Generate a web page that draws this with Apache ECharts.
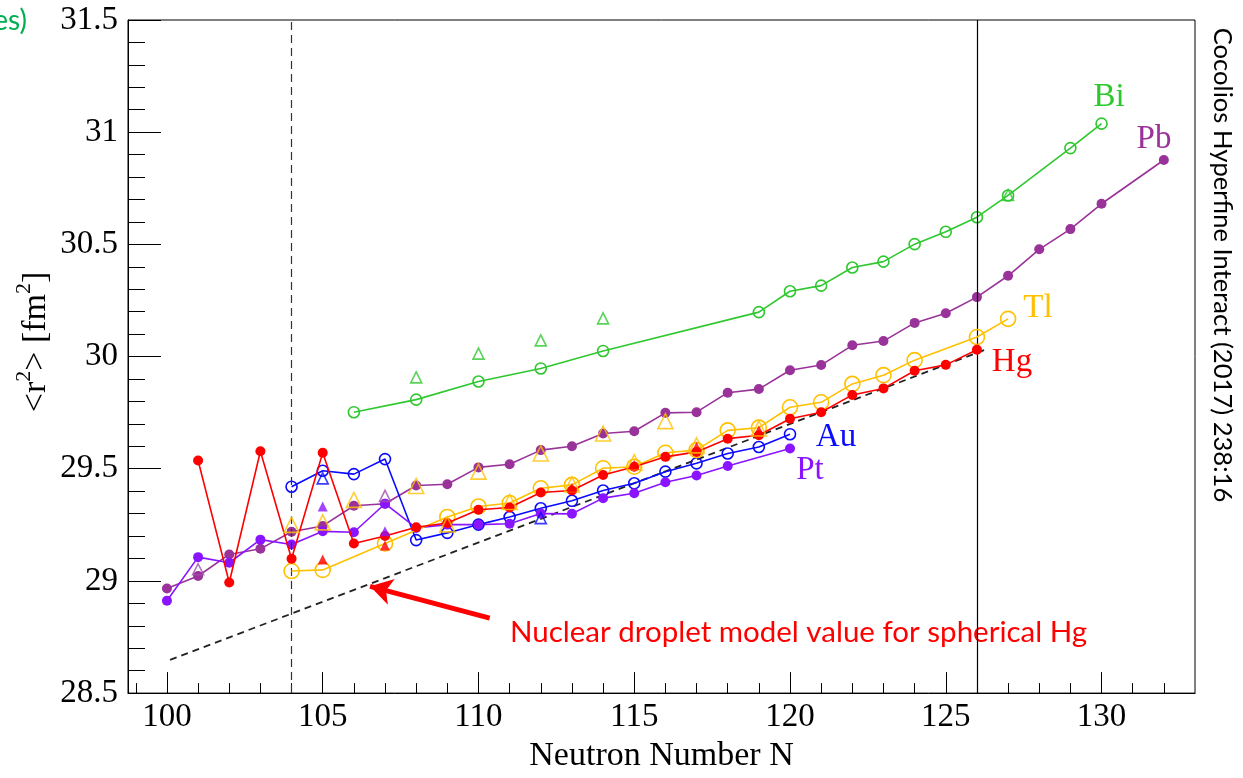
<!DOCTYPE html>
<html>
<head>
<meta charset="utf-8">
<script src="https://cdn.jsdelivr.net/npm/echarts@6/dist/echarts.min.js"></script>
<style>
html,body{margin:0;padding:0;background:#fff;}
#chart{width:1243px;height:778px;}
</style>
</head>
<body>
<div id="chart"></div>
<script>
// ---- data (neutron number N, <r^2> in fm^2) ----
const hgN = [101,102,103,104,105,106,107,108,109,110,111,112,113,114,115,116,117,118,119,120,121,122,123,124,125,126];
const hgR = [29.537,28.993,29.578,29.099,29.571,29.167,29.20,29.239,29.258,29.317,29.327,29.394,29.403,29.472,29.509,29.553,29.575,29.634,29.649,29.723,29.752,29.829,29.858,29.937,29.963,30.03];

const ptN = [100,101,102,103,104,105,106,107,108,109,110,111,112,113,114,115,116,117,118,120];
const ptR = [28.912,29.106,29.081,29.184,29.162,29.221,29.217,29.344,29.236,29.251,29.251,29.255,29.30,29.299,29.369,29.391,29.44,29.47,29.512,29.59];

const pbN = [100,101,102,103,104,105,106,107,108,109,110,111,112,113,114,115,116,117,118,119,120,121,122,123,124,125,126,127,128,129,130,132];
const pbR = [28.966,29.022,29.118,29.143,29.219,29.245,29.335,29.344,29.425,29.431,29.506,29.52,29.583,29.60,29.657,29.667,29.749,29.752,29.839,29.855,29.939,29.962,30.05,30.069,30.15,30.193,30.265,30.36,30.478,30.568,30.681,30.876];

const tlN = [104,105,107,109,110,111,112,113,114,115,116,117,118,119,120,121,122,123,124,126,127];
const tlR = [29.044,29.049,29.167,29.285,29.332,29.347,29.413,29.428,29.502,29.509,29.571,29.583,29.671,29.683,29.774,29.796,29.878,29.917,29.984,30.087,30.168];

const auN = [104,105,106,107,108,109,110,111,112,113,114,115,116,117,118,119,120];
const auR = [29.42,29.491,29.476,29.543,29.182,29.214,29.251,29.285,29.324,29.357,29.403,29.435,29.487,29.524,29.568,29.597,29.654];

const biN = [106,108,110,112,114,119,120,121,122,123,124,125,126,127,129,130];
const biR = [29.752,29.808,29.889,29.947,30.025,30.198,30.291,30.316,30.397,30.423,30.501,30.556,30.621,30.718,30.929,31.038];

// isomer (triangle) points
const tlIsoN = [104,105,106,108,109,110,111,112,113,114,115,116,117,119];
const tlIsoR = [29.25,29.261,29.361,29.423,29.252,29.487,29.352,29.568,29.43,29.657,29.529,29.712,29.604,29.68];
const hgIsoN = [105,107,113,115,117,119];
const hgIsoR = [29.096,29.158,29.415,29.518,29.598,29.672];
const ptIsoN = [105,107];
const ptIsoR = [29.332,29.221];
const pbIsoN = [101,107];
const pbIsoR = [29.052,29.379];
const auIsoN = [105,112];
const auIsoR = [29.457,29.28];
const biIsoN = [108,110,112,114,127];
const biIsoR = [29.907,30.013,30.072,30.17,30.72];

// droplet model line (Hg, spherical)
const modelN = [100.1,126.35];
const modelR = [28.648,30.035];

// arrow annotation (tail -> tip)
const arrowN = [110.36,106.52];
const arrowR = [28.834,28.976];

// axis ticks
const xMajor = [100,105,110,115,120,125,130];
const xMinor = [99,101,102,103,104,106,107,108,109,111,112,113,114,116,117,118,119,121,122,123,124,126,127,128,129,131,132];

// vertical reference lines
const shellClosureN = 126;
const midShellN = 104;

// ---- colours ----
const C = {Hg:'#ff0000', Pt:'#8a14ff', Pb:'#993399', Tl:'#ffc000', Au:'#0a0aff', Bi:'#2ec82e'};

function zip(a,b){return a.map((v,i)=>[v,b[i]]);}

const serif = 'Liberation Serif';
const chart = echarts.init(document.getElementById('chart'));

function lineSeries(name, n, r, color, filled, size, z){
  return {
    name, type:'line', data: zip(n,r), z,
    symbol:'circle', symbolSize:size,
    itemStyle: filled ? {color:color} : {color:'rgba(0,0,0,0)', borderColor:color, borderWidth:1.6},
    lineStyle:{color:color, width:1.6},
    emphasis:{disabled:true}, animation:false
  };
}
function triSeries(name, n, r, color, filled, size, z){
  return {
    name, type:'scatter', data: zip(n,r), z,
    symbol:'triangle', symbolSize:size,
    itemStyle: filled ? {color:color} : {color:'rgba(0,0,0,0)', borderColor:color, borderWidth:1.6},
    emphasis:{disabled:true}, animation:false
  };
}

const option = {
  animation:false,
  backgroundColor:'#fff',
  grid:{left:128, right:48, top:20, bottom:81, show:true, borderColor:'#000', borderWidth:1, backgroundColor:'transparent'},
  xAxis:[{
    type:'value', min:98.75, max:133,
    name:'Neutron Number N', nameLocation:'middle', nameGap:42,
    nameTextStyle:{fontFamily:serif, fontSize:34, color:'#000'},
    axisLine:{show:true, onZero:false, lineStyle:{color:'#000', width:1}},
    axisTick:{show:true, inside:true, length:21, customValues:xMajor, lineStyle:{color:'#000', width:1}},
    axisLabel:{show:true, customValues:xMajor, fontFamily:serif, fontSize:33, color:'#000', margin:8},
    splitLine:{show:false}
  },{
    type:'value', min:98.75, max:133, position:'bottom',
    axisLine:{show:false},
    axisTick:{show:true, inside:true, length:10, customValues:xMinor, lineStyle:{color:'#000', width:1}},
    axisLabel:{show:false},
    splitLine:{show:false}
  }],
  yAxis:{
    type:'value', min:28.5, max:31.5, interval:0.5,
    axisLine:{show:true, onZero:false, lineStyle:{color:'#000', width:1}},
    axisTick:{show:true, inside:true, length:33, lineStyle:{color:'#000', width:1}},
    minorTick:{show:true, splitNumber:5, length:17, lineStyle:{color:'#000', width:1}},
    axisLabel:{fontFamily:serif, fontSize:33, color:'#000', margin:10},
    splitLine:{show:false}
  },
  series:[
    {
      name:'model', type:'line', data: zip(modelN, modelR), z:2,
      symbol:'none', lineStyle:{color:'#222', width:1.8, type:[7,5]},
      emphasis:{disabled:true},
      markLine:{
        silent:true, animation:false,
        label:{show:false},
        symbol:['none','none'],
        data:[
          [{xAxis:midShellN, yAxis:28.5, lineStyle:{color:'#333', width:1.2, type:[8,5]}},{xAxis:midShellN, yAxis:31.5}],
          [{xAxis:shellClosureN, yAxis:28.5, lineStyle:{color:'#000', width:1.2, type:'solid'}},{xAxis:shellClosureN, yAxis:31.5}],
          [{coord:[arrowN[0],arrowR[0]], symbol:'none', lineStyle:{color:'#ff0000', width:5, type:'solid'}},
           {coord:[arrowN[1],arrowR[1]], symbol:'arrow', symbolSize:[20,22]}]
        ]
      }
    },
    lineSeries('Bi', biN, biR, C.Bi, false, 11, 3),
    lineSeries('Pb', pbN, pbR, C.Pb, true, 10, 3),
    lineSeries('Au', auN, auR, C.Au, false, 11, 4),
    lineSeries('Pt', ptN, ptR, C.Pt, true, 10, 4),
    lineSeries('Tl', tlN, tlR, C.Tl, false, 15, 5),
    lineSeries('Hg', hgN, hgR, C.Hg, true, 10, 6),
    triSeries('Tl*', tlIsoN, tlIsoR, C.Tl, false, 15, 7),
    triSeries('Hg*', hgIsoN, hgIsoR, C.Hg, true, 10, 8),
    triSeries('Pt*', ptIsoN, ptIsoR, C.Pt, true, 10, 8),
    triSeries('Pb*', pbIsoN, pbIsoR, '#a050a8', false, 11, 8),
    triSeries('Au*', auIsoN, auIsoR, C.Au, false, 11, 8),
    triSeries('Bi*', biIsoN, biIsoR, C.Bi, false, 11, 8)
  ],
  graphic:[
    {type:'text', x:33, y:342, rotation:Math.PI/2, silent:true,
     style:{text:'{m|<r}{s|2}{m|> [fm}{s|2}{m|]}', x:0, y:0, textAlign:'center', textVerticalAlign:'middle', fontFamily:serif, fontSize:34, fill:'#000',
       rich:{m:{fontFamily:serif, fontSize:34, lineHeight:40, verticalAlign:'bottom', fill:'#000'}, s:{fontFamily:serif, fontSize:22, lineHeight:40, verticalAlign:'top', fill:'#000'}}}},
    {type:'text', x:1222, y:265, rotation:-Math.PI/2, silent:true,
     style:{text:'Cocolios Hyperfine Interact (2017) 238:16', x:0, y:0, textAlign:'center', textVerticalAlign:'middle', fontFamily:'Lato', fontSize:25.6, fill:'#000'}},
    {type:'text', x:27, y:21, silent:true,
     style:{text:'es)', textAlign:'right', textVerticalAlign:'middle', fontFamily:'Lato', fontSize:28, fill:'#00b050'}},
    {type:'text', x:510, y:632, silent:true,
     style:{text:'Nuclear droplet model value for spherical Hg', textAlign:'left', textVerticalAlign:'middle', fontFamily:'Lato', fontSize:29.5, fill:'#ff0000'}},
    {type:'text', x:1109, y:97, silent:true, style:{text:'Bi', textAlign:'center', textVerticalAlign:'middle', fontFamily:serif, fontSize:33, fill:C.Bi}},
    {type:'text', x:1154, y:139, silent:true, style:{text:'Pb', textAlign:'center', textVerticalAlign:'middle', fontFamily:serif, fontSize:33, fill:C.Pb}},
    {type:'text', x:1038, y:308, silent:true, style:{text:'Tl', textAlign:'center', textVerticalAlign:'middle', fontFamily:serif, fontSize:33, fill:C.Tl}},
    {type:'text', x:1012, y:362, silent:true, style:{text:'Hg', textAlign:'center', textVerticalAlign:'middle', fontFamily:serif, fontSize:33, fill:C.Hg}},
    {type:'text', x:836, y:437, silent:true, style:{text:'Au', textAlign:'center', textVerticalAlign:'middle', fontFamily:serif, fontSize:33, fill:C.Au}},
    {type:'text', x:810, y:470, silent:true, style:{text:'Pt', textAlign:'center', textVerticalAlign:'middle', fontFamily:serif, fontSize:33, fill:C.Pt}}
  ]
};
chart.setOption(option);
</script>
</body>
</html>
